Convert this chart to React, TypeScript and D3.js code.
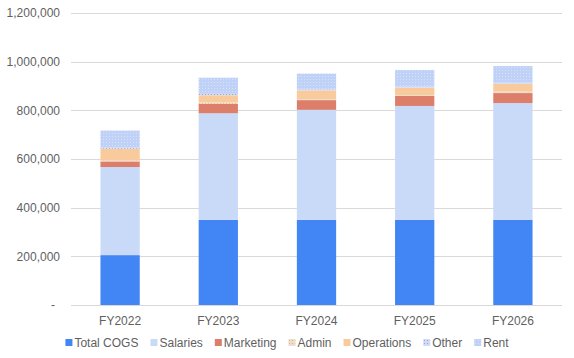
import React from "react";
import * as d3 from "d3";

const categories = ["FY2022", "FY2023", "FY2024", "FY2025", "FY2026"];
const seriesNames = ["Total COGS", "Salaries", "Marketing", "Admin", "Operations", "Other", "Rent"];
const totalCOGS = [205000, 350000, 350000, 350000, 350000];
const salaries = [362000, 438000, 452000, 468000, 480000];
const marketing = [23000, 39000, 40000, 41000, 41000];
const admin = [4000, 5000, 4000, 4000, 6000];
const operations = [48000, 30000, 36000, 30000, 32000];
const other = [5000, 6000, 6000, 4000, 4000];
const rent = [70000, 66000, 63000, 69000, 69000];
const yTicks = [0, 200000, 400000, 600000, 800000, 1000000, 1200000];

const W = 574;
const H = 358;
const FONT = "'Liberation Sans', Arial, sans-serif";

const fills: Record<string, string> = {
  "Total COGS": "#4285f4",
  Salaries: "#c9daf8",
  Marketing: "#dd7e6b",
  Admin: "url(#pAdmin)",
  Operations: "#f9cb9c",
  Other: "url(#pOther)",
  Rent: "url(#pRent)",
};

function measure(text: string): number {
  if (typeof document === "undefined") return text.length * 6.5;
  const c = document.createElement("canvas").getContext("2d");
  if (!c) return text.length * 6.5;
  c.font = "12px 'Liberation Sans', Arial, sans-serif";
  return c.measureText(text).width;
}

export default function App() {
  const seriesData = [totalCOGS, salaries, marketing, admin, operations, other, rent];
  const rows = categories.map((c, i) => {
    const r: Record<string, any> = { cat: c };
    seriesNames.forEach((s, k) => (r[s] = seriesData[k][i]));
    return r;
  });
  const stacked = d3.stack<any>().keys(seriesNames)(rows);

  const x = d3.scaleBand().domain(categories).range([71, 562]).paddingInner(0.6).paddingOuter(0.3);
  const y = d3.scaleLinear().domain([0, 1200000]).range([305, 13]);
  const fmt = d3.format(",");

  // legend layout
  const sw = 7;
  const gapText = 2;
  const gapItem = 12;
  const widths = seriesNames.map((s) => sw + gapText + measure(s));
  const total = d3.sum(widths) + gapItem * (seriesNames.length - 1);
  let lx = W / 2 - total / 2;
  const legendItems = seriesNames.map((s, i) => {
    const item = { name: s, x: lx };
    lx += widths[i] + gapItem;
    return item;
  });

  return (
    <svg width={W} height={H} style={{ position: "absolute", left: 0, top: 0, background: "#fff" }} fontFamily={FONT}>
      <defs>
        <pattern id="pRent" width="3" height="3" patternUnits="userSpaceOnUse">
          <rect width="3" height="3" fill="#c0d1f7" />
          <rect x="1" y="1" width="1" height="1" fill="#d6e1fa" />
        </pattern>
        <pattern id="pOther" width="3" height="3" patternUnits="userSpaceOnUse">
          <rect width="3" height="3" fill="#cfdaf5" />
          <rect x="1" y="1" width="1" height="1" fill="#9ea6bf" />
        </pattern>
        <pattern id="pAdmin" width="3" height="3" patternUnits="userSpaceOnUse">
          <rect width="3" height="3" fill="#f0dcc8" />
          <rect x="1" y="1" width="1" height="1" fill="#cfb79f" />
        </pattern>
      </defs>
      {yTicks.map((t) => (
        <g key={t}>
          <line x1={71} x2={562} y1={Math.round(y(t)) + 0.5} y2={Math.round(y(t)) + 0.5} stroke="#d9d9d9" strokeWidth={1} />
          <text
            x={t === 0 ? 55 : 60}
            y={y(t)}
            dy="0.35em"
            textAnchor="end"
            fontSize={12}
            fill="#5f5f5f"
          >
            {t === 0 ? "-" : fmt(t)}
          </text>
        </g>
      ))}
      {stacked.map((s) => (
        <g key={s.key} fill={fills[s.key]}>
          {s.map((d, i) => (
            <rect
              key={i}
              x={x(categories[i])}
              width={x.bandwidth()}
              y={y(d[1])}
              height={y(d[0]) - y(d[1])}
            />
          ))}
        </g>
      ))}
      {categories.map((c) => (
        <text key={c} x={(x(c) as number) + x.bandwidth() / 2} y={321} dy="0.35em" textAnchor="middle" fontSize={12} fill="#5f5f5f">
          {c}
        </text>
      ))}
      {legendItems.map((it) => (
        <g key={it.name}>
          <rect x={it.x} y={339} width={sw} height={sw} fill={fills[it.name]} />
          <text x={it.x + sw + gapText} y={342.5} dy="0.35em" fontSize={12} fill="#5f5f5f">
            {it.name}
          </text>
        </g>
      ))}
    </svg>
  );
}
